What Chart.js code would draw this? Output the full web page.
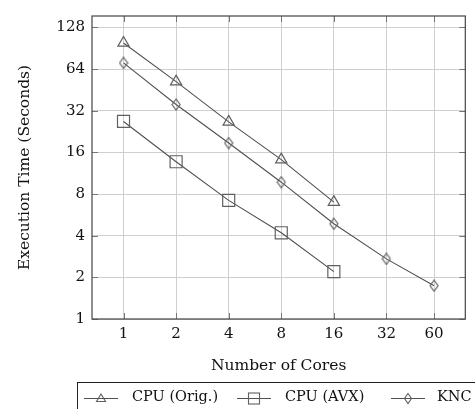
<!DOCTYPE html>
<html>
<head>
<meta charset="utf-8">
<script src="https://cdn.jsdelivr.net/npm/chart.js@4/dist/chart.umd.min.js"></script>
<style>
html,body{margin:0;padding:0;background:#fff;}
#wrap{position:relative;width:475px;height:409px;overflow:hidden;}
#c{position:absolute;left:0;top:0;}
#legend{position:absolute;left:77px;top:382px;width:420px;height:40px;border:1px solid #222;box-sizing:border-box;font-family:"DejaVu Serif",serif;font-size:14.5px;color:#111;}
#legend .it{position:absolute;top:5px;height:20px;}
#legend svg{position:absolute;top:0;left:0;}
#legend span{position:absolute;white-space:nowrap;}
</style>
</head>
<body>
<div id="wrap">
<canvas id="c" width="475" height="409"></canvas>
<div id="legend"></div>
</div>
<script>
// ---- data ----
const cores = [1, 2, 4, 8, 16, 32, 60];
const xTickLabels = ["1", "2", "4", "8", "16", "32", "60"];
const yTickValues = [1, 2, 4, 8, 16, 32, 64, 128];
const seriesNames = ["CPU (Orig.)", "CPU (AVX)", "KNC"];
const cpuOrig = [99, 52, 26.6, 14.2, 7.0];
const cpuAvx = [26.8, 13.7, 7.2, 4.2, 2.2];
const knc = [71, 35.5, 18.7, 9.75, 4.88, 2.72, 1.74];

const FONT = '"DejaVu Serif", serif';
const lineCol = '#505050';
const markCol = '#606060';

function diamond(w, h) {
  const c = document.createElement('canvas');
  c.width = w + 2; c.height = h + 2;
  const g = c.getContext('2d');
  g.strokeStyle = markCol; g.lineWidth = 1.2;
  g.beginPath();
  g.moveTo(c.width/2, 1); g.lineTo(c.width-1, c.height/2);
  g.lineTo(c.width/2, c.height-1); g.lineTo(1, c.height/2); g.closePath();
  g.stroke();
  return c;
}
const diamondImg = diamond(8, 11);

function pts(vals) { return vals.map((v, i) => ({x: cores[i], y: v})); }

const frameTicks = {
  id: 'frameTicks',
  afterDraw(chart) {
    const {ctx, chartArea: a, scales} = chart;
    ctx.save();
    ctx.strokeStyle = '#777'; ctx.lineWidth = 1;
    const L = 6;
    ctx.beginPath();
    cores.forEach(v => {
      const x = Math.round(scales.x.getPixelForValue(v)) + 0.5;
      ctx.moveTo(x, a.top); ctx.lineTo(x, a.top + L);
      ctx.moveTo(x, a.bottom); ctx.lineTo(x, a.bottom - L);
    });
    yTickValues.forEach(v => {
      const y = Math.round(scales.y.getPixelForValue(v)) + 0.5;
      ctx.moveTo(a.right, y); ctx.lineTo(a.right - L, y);
      ctx.moveTo(a.left, y); ctx.lineTo(a.left + L, y);
    });
    ctx.stroke();
    ctx.strokeStyle = '#444'; ctx.lineWidth = 1.2;
    ctx.strokeRect(a.left, a.top, a.right - a.left, a.bottom - a.top);
    ctx.restore();
  }
};

new Chart(document.getElementById('c'), {
  type: 'line',
  data: {
    datasets: [
      {label: seriesNames[0], data: pts(cpuOrig), borderColor: lineCol, borderWidth: 1.1,
       pointStyle: 'triangle', pointRadius: 6.5, pointBorderColor: markCol, pointBackgroundColor: 'rgba(0,0,0,0)', pointBorderWidth: 1.2},
      {label: seriesNames[1], data: pts(cpuAvx), borderColor: lineCol, borderWidth: 1.1,
       pointStyle: 'rect', pointRadius: 8.5, pointBorderColor: markCol, pointBackgroundColor: 'rgba(0,0,0,0)', pointBorderWidth: 1.2},
      {label: seriesNames[2], data: pts(knc), borderColor: lineCol, borderWidth: 1.1,
       pointStyle: diamondImg, pointRadius: 6, pointBorderColor: markCol, pointBackgroundColor: 'rgba(0,0,0,0)'}
    ]
  },
  options: {
    responsive: false,
    animation: false,
    layout: {padding: {left: 0, right: 8, top: 8, bottom: 30}},
    plugins: {legend: {display: false}, tooltip: {enabled: false}},
    scales: {
      x: {
        type: 'logarithmic', min: 0.66, max: 90.5,
        afterBuildTicks(s) { s.ticks = cores.map(v => ({value: v})); },
        afterFit(s) { s.height = 60; },
        ticks: {autoSkip: false, maxRotation: 0, padding: 6, color: '#111', font: {family: FONT, size: 15},
          callback: (v) => { const i = cores.indexOf(v); return i >= 0 ? xTickLabels[i] : ''; }},
        grid: {color: '#cfcfcf', lineWidth: 1, drawTicks: false},
        border: {display: false},
        title: {display: true, text: 'Number of Cores', color: '#111', font: {family: FONT, size: 15.5}, padding: {top: 6}}
      },
      y: {
        type: 'logarithmic', min: 1, max: 155,
        afterBuildTicks(s) { s.ticks = yTickValues.map(v => ({value: v})); },
        afterFit(s) { s.width = 92; },
        ticks: {autoSkip: false, padding: 7, color: '#111', font: {family: FONT, size: 15},
          callback: (v) => String(v)},
        grid: {color: '#cfcfcf', lineWidth: 1, drawTicks: false},
        border: {display: false},
        title: {display: true, text: 'Execution Time (Seconds)', color: '#111', font: {family: FONT, size: 15.5}, padding: {top: 16, bottom: 0}}
      }
    }
  },
  plugins: [frameTicks]
});

// ---- HTML legend ----
const legend = document.getElementById('legend');
const legendPos = [{line: 6, text: 54}, {line: 159, text: 207}, {line: 313, text: 359}];
const markerSvg = [
  '<polygon points="17,6 21.5,13.5 12.5,13.5" fill="none" stroke="#606060" stroke-width="1.1"/>',
  '<rect x="11.5" y="5" width="11" height="11" fill="none" stroke="#606060" stroke-width="1.1"/>',
  '<polygon points="17,5.5 20.5,10.5 17,15.5 13.5,10.5" fill="none" stroke="#606060" stroke-width="1.1"/>'
];
seriesNames.forEach((name, i) => {
  const d = document.createElement('div');
  d.className = 'it';
  d.style.left = legendPos[i].line + 'px';
  d.innerHTML = '<svg width="36" height="21"><line x1="0" y1="10.5" x2="34" y2="10.5" stroke="#505050" stroke-width="1.1"/>' + markerSvg[i] + '</svg>';
  legend.appendChild(d);
  const s = document.createElement('span');
  s.textContent = name;
  s.style.left = legendPos[i].text + 'px';
  s.style.top = '5px';
  legend.appendChild(s);
});
</script>
</body>
</html>
